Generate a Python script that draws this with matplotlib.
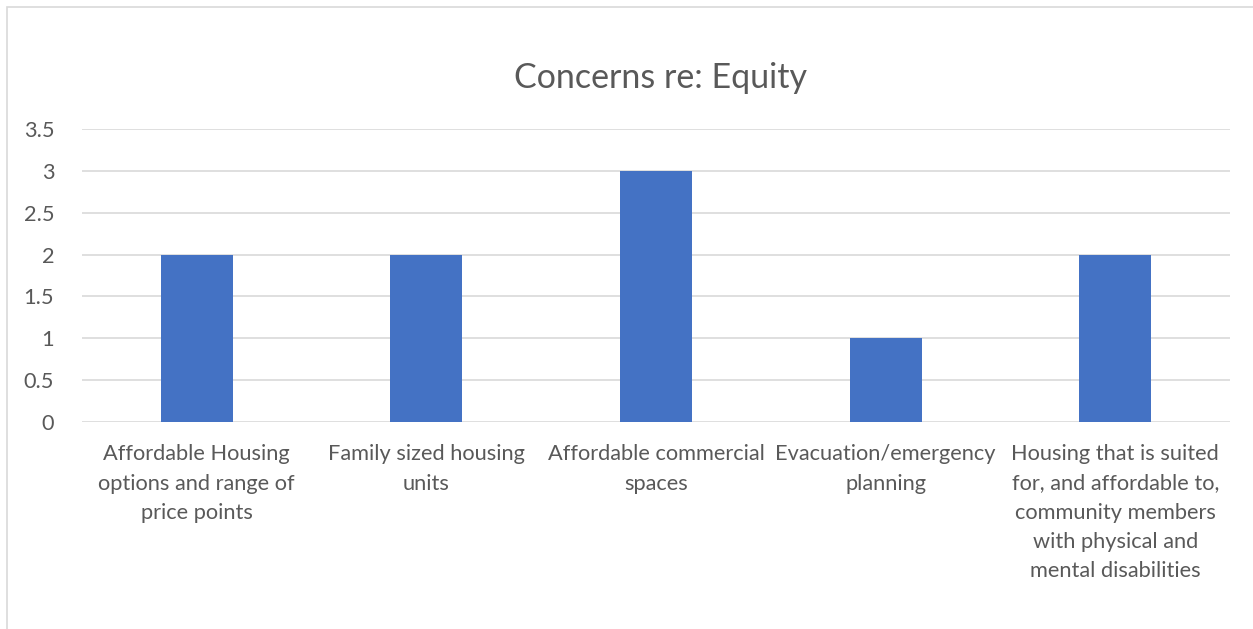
import matplotlib
matplotlib.use("Agg")
import matplotlib.pyplot as plt
from matplotlib.patches import Rectangle

categories = [
    "Affordable Housing\noptions and range of\nprice points",
    "Family sized housing\nunits",
    "Affordable commercial\nspaces",
    "Evacuation/emergency\nplanning",
    "Housing that is suited\nfor, and affordable to,\ncommunity members\nwith physical and\nmental disabilities",
]
values = [2, 2, 3, 1, 2]
yticks = [0, 0.5, 1, 1.5, 2, 2.5, 3, 3.5]
ytick_labels = ["0", "0.5", "1", "1.5", "2", "2.5", "3", "3.5"]
title = "Concerns re: Equity"

TEXT = "#595959"
GRID = "#D9D9D9"
BAR = "#4472C4"

plt.rcParams["font.family"] = ["Lato", "DejaVu Sans"]

W, H = 1253, 629
fig = plt.figure(figsize=(W / 100, H / 100), dpi=100)
fig.patch.set_facecolor("white")

# chart-area frame (open on right and bottom edges of the canvas)
fig.patches.append(Rectangle((7 / W, -0.1), 1.2, 1 - 7 / H + 0.1,
                             transform=fig.transFigure, fill=False,
                             edgecolor=GRID, linewidth=1.2))

left, right = 82 / W, 1230 / W
bottom, top = 1 - 422 / H, 1 - 129 / H
ax = fig.add_axes([left, bottom, right - left, top - bottom])

x = range(len(categories))
ax.bar(x, values, width=0.314, color=BAR, zorder=3)
ax.set_xlim(-0.5, len(categories) - 0.5)
ax.set_ylim(0, 3.5)
ax.set_yticks(yticks)
ax.set_yticklabels(ytick_labels)
ax.set_xticks(list(x))
ax.set_xticklabels(categories, linespacing=1.58)

ax.grid(axis="y", color=GRID, linewidth=1.2, zorder=0)
for s in ax.spines.values():
    s.set_visible(False)
ax.tick_params(axis="both", length=0, colors=TEXT, labelsize=15.7)
ax.tick_params(axis="y", pad=20)
ax.tick_params(axis="x", pad=16)

fig.text(661 / W, 1 - 78 / H, title, ha="center", va="center",
         fontsize=24.5, color=TEXT)

fig.savefig("out.png", dpi=100, facecolor="white")
